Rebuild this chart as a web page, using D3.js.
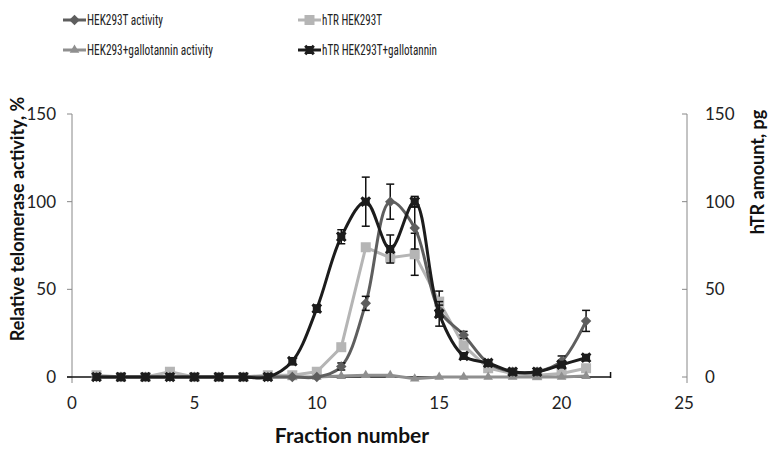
<!DOCTYPE html>
<html><head><meta charset="utf-8">
<script src="https://cdn.jsdelivr.net/npm/d3@7"></script>
<style>body{margin:0;background:#fff}svg{display:block}</style>
</head><body><svg id="c" width="777" height="452"></svg>
<script>
const fractions = [1,2,3,4,5,6,7,8,9,10,11,12,13,14,15,16,17,18,19,20,21];
const hekActivity = [0,0,0,0,0,0,0,0,0,0,6,42,100,85,38,24,8,3,3,9,32];
const hekActivityErr = [0,0,0,0,0,0,0,0,0,0,2,4,10,12,3,2,1,1,1,3,6];
const gallActivity = [0,0,0,0,0,0,0,0,0,0,0.5,1,1,-1,0,0,0,0,0,0,0.5];
const hTRHek = [1,0,0,3,0,0,0,1,1,3,17,74,68,70,43,18,5,2,1,2,5];
const hTRHekErr = [0,0,0,0,0,0,0,0,0,0,0,0,0,12,6,0,0,0,0,0,0];
const hTRGall = [0,0,0,0,0,0,0,0,9,39,80,100,73,100,36,12,8,3,3,7,11];
const hTRGallErr = [0,0,0,0,0,0,0,0,2,2,4,14,8,3,7,1,1,0,0,1,1];
const xTicks = [0,5,10,15,20,25];
const yTicks = [0,50,100,150];

const svg = d3.select('#c');
const x = d3.scaleLinear().domain([0,25]).range([72,684]);
const yL = d3.scaleLinear().domain([0,150]).range([377,114]);
const yR = d3.scaleLinear().domain([0,150]).range([377,114]);
const rightX = 687;
const font = 'Lato, "Open Sans", sans-serif';

// left axis
const gL = svg.append('g');
gL.append('line').attr('x1',72).attr('x2',72).attr('y1',114).attr('y2',383).attr('stroke','#888').attr('stroke-width',1);
yTicks.forEach(t=>{
  gL.append('line').attr('x1',67).attr('x2',72).attr('y1',yL(t)).attr('y2',yL(t)).attr('stroke','#888');
  gL.append('text').attr('x',56).attr('y',yL(t)).attr('dy','0.35em').attr('text-anchor','end')
    .attr('font-family',font).attr('font-size',17).attr('fill','#222').text(t);
});
// right axis
const gR = svg.append('g');
gR.append('line').attr('x1',rightX).attr('x2',rightX).attr('y1',114).attr('y2',383).attr('stroke','#888');
yTicks.forEach(t=>{
  gR.append('line').attr('x1',rightX-5).attr('x2',rightX).attr('y1',yR(t)).attr('y2',yR(t)).attr('stroke','#888');
  gR.append('text').attr('x',705).attr('y',yR(t)).attr('dy','0.35em').attr('text-anchor','start')
    .attr('font-family',font).attr('font-size',17).attr('fill','#222').text(t);
});
// x axis
svg.append('line').attr('x1',67).attr('x2',x(22)).attr('y1',yL(0)).attr('y2',yL(0)).attr('stroke','#111').attr('stroke-width',1.5);
svg.append('line').attr('x1',x(22)).attr('x2',x(22)).attr('y1',yL(0)-5).attr('y2',yL(0)+1).attr('stroke','#111').attr('stroke-width',1.5);
xTicks.forEach(t=>{
  svg.append('text').attr('x',x(t)).attr('y',403).attr('dy','0.35em').attr('text-anchor','middle')
    .attr('font-family',font).attr('font-size',17).attr('fill','#222').text(t);
});
// titles
svg.append('text').attr('transform','translate(24,219) rotate(-90)').attr('text-anchor','middle')
  .attr('font-family',font).attr('font-weight','bold').attr('font-size',18).attr('fill','#111').text('Relative telomerase activity, %');
svg.append('text').attr('transform','translate(764,172) rotate(-90)').attr('text-anchor','middle')
  .attr('font-family',font).attr('font-weight','bold').attr('font-size',18).attr('fill','#111').text('hTR amount, pg');
svg.append('text').attr('x',352).attr('y',443).attr('text-anchor','middle')
  .attr('font-family',font).attr('font-weight','bold').attr('font-size',21).attr('fill','#111').text('Fraction number');

const colors = {act:'#5e5e5e', gall:'#8f8f8f', htr:'#b5b5b5', htrg:'#1c1c1c'};

function series(vals, scale, color, curve, marker, errs){
  const pts = fractions.map((f,i)=>[x(f), scale(vals[i])]);
  const g = svg.append('g');
  g.append('path').attr('d', d3.line().curve(curve)(pts)).attr('fill','none').attr('stroke',color).attr('stroke-width',3);
  if(errs){
    fractions.forEach((f,i)=>{
      if(!errs[i]) return;
      const cx = x(f), y1 = scale(vals[i]+errs[i]), y2 = scale(vals[i]-errs[i]);
      g.append('line').attr('x1',cx).attr('x2',cx).attr('y1',y1).attr('y2',y2).attr('stroke','#111').attr('stroke-width',1.5);
      [y1,y2].forEach(yy=>g.append('line').attr('x1',cx-4).attr('x2',cx+4).attr('y1',yy).attr('y2',yy).attr('stroke','#111').attr('stroke-width',1.5));
    });
  }
  pts.forEach(p=>marker(g,p[0],p[1],color));
}
function diamond(g,cx,cy,c){ g.append('path').attr('d',d3.symbol(d3.symbolDiamond2,70)()).attr('transform',`translate(${cx},${cy})`).attr('fill',c); }
function square(g,cx,cy,c){ g.append('rect').attr('x',cx-5).attr('y',cy-5).attr('width',10).attr('height',10).attr('fill',c); }
function tri(g,cx,cy,c){ g.append('path').attr('d',d3.symbol(d3.symbolTriangle,40)()).attr('transform',`translate(${cx},${cy})`).attr('fill',c); }
function star(g,cx,cy,c){
  g.append('path').attr('d',d3.symbol(d3.symbolX,50)()).attr('transform',`translate(${cx},${cy})`).attr('stroke',c).attr('stroke-width',3).attr('fill','none');
  g.append('rect').attr('x',cx-4).attr('y',cy-4).attr('width',8).attr('height',8).attr('fill',c);
}

series(hTRHek, yR, colors.htr, d3.curveLinear, square, hTRHekErr);
series(gallActivity, yL, colors.gall, d3.curveLinear, tri, null);
series(hekActivity, yL, colors.act, d3.curveCatmullRom, diamond, hekActivityErr);
series(hTRGall, yR, colors.htrg, d3.curveCatmullRom, star, hTRGallErr);

// legend
const legend = [
  {label:'HEK293T activity', color:colors.act, m:diamond, x:63, y:20, w:76},
  {label:'hTR HEK293T', color:colors.htr, m:square, x:298, y:20, w:60},
  {label:'HEK293+gallotannin activity', color:colors.gall, m:tri, x:63, y:50, w:126},
  {label:'hTR HEK293T+gallotannin', color:colors.htrg, m:star, x:298, y:50, w:115}
];
legend.forEach(l=>{
  const g = svg.append('g');
  g.append('line').attr('x1',l.x).attr('x2',l.x+23).attr('y1',l.y).attr('y2',l.y).attr('stroke',l.color).attr('stroke-width',3);
  l.m(g,l.x+11.5,l.y,l.color);
  g.append('text').attr('x',l.x+24).attr('y',l.y).attr('dy','0.35em')
    .attr('textLength',l.w).attr('lengthAdjust','spacingAndGlyphs')
    .attr('font-family','"Liberation Sans Narrow", "Roboto Condensed", Roboto, sans-serif').attr('font-size',14).attr('fill','#222').text(l.label);
});
</script></body></html>
